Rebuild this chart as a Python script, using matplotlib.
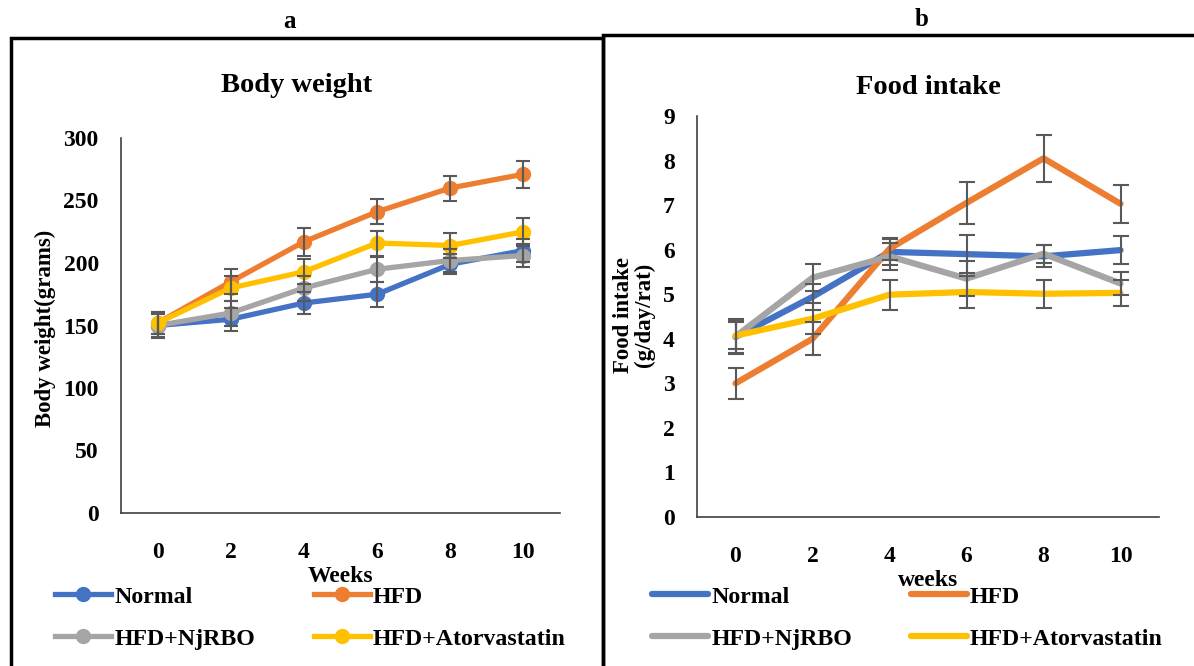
import matplotlib.pyplot as plt
from matplotlib.lines import Line2D
from matplotlib.patches import Rectangle

plt.rcParams['font.family'] = ['Liberation Serif', 'DejaVu Serif']
plt.rcParams['font.weight'] = 'bold'

weeks = ['0', '2', '4', '6', '8', '10']
groups = ['Normal', 'HFD', 'HFD+NjRBO', 'HFD+Atorvastatin']
colors = ['#4472C4', '#ED7D31', '#A5A5A5', '#FFC000']

# body weight (grams)
bw_normal = [150, 155, 168, 175, 199, 210]
bw_hfd = [152, 185, 217, 241, 260, 271]
bw_njrbo = [150, 160, 180, 195, 202, 206]
bw_ator = [152, 180, 193, 216, 214, 225]
bw_normal_err = [10, 9, 9, 10, 8, 9]
bw_hfd_err = [9, 10, 11, 10, 10, 11]
bw_njrbo_err = [9, 10, 10, 10, 9, 9]
bw_ator_err = [9, 10, 10, 10, 10, 11]

# food intake (g/day/rat)
fi_normal = [4.04, 4.94, 5.95, 5.90, 5.85, 5.99]
fi_hfd = [3.0, 4.0, 6.02, 7.05, 8.05, 7.03]
fi_njrbo = [4.05, 5.37, 5.85, 5.35, 5.91, 5.24]
fi_ator = [4.07, 4.45, 4.99, 5.05, 5.01, 5.03]
fi_normal_err = [0.35, 0.3, 0.3, 0.42, 0.25, 0.32]
fi_hfd_err = [0.35, 0.37, 0.25, 0.47, 0.53, 0.43]
fi_njrbo_err = [0.4, 0.3, 0.3, 0.4, 0.2, 0.25]
fi_ator_err = [0.3, 0.35, 0.34, 0.35, 0.32, 0.3]

W, H = 1194, 666
fig = plt.figure(figsize=(W / 100, H / 100), dpi=100)


def fx(px):
    return px / W


def fy(py):
    return 1 - py / H


def style_axes(ax, ymax, ystep):
    ax.set_xlim(-0.5, len(weeks) - 0.5)
    ax.set_ylim(0, ymax)
    ax.set_xticks(range(len(weeks)))
    ax.set_xticklabels(weeks)
    ax.set_yticks(range(0, ymax + 1, ystep))
    for s in ['top', 'right']:
        ax.spines[s].set_visible(False)
    for s in ['left', 'bottom']:
        ax.spines[s].set_color('#404040')
        ax.spines[s].set_linewidth(1.2)
    ax.tick_params(length=0, labelsize=17)
    ax.tick_params(axis='x', pad=21)
    ax.tick_params(axis='y', pad=16)


x = list(range(len(weeks)))

# panel a
ax1 = fig.add_axes([fx(121), fy(513), fx(560 - 121), (513 - 138) / H])
bw_vals = [bw_normal, bw_hfd, bw_njrbo, bw_ator]
bw_errs = [bw_normal_err, bw_hfd_err, bw_njrbo_err, bw_ator_err]
for vals, err, c, name in zip(bw_vals, bw_errs, colors, groups):
    ax1.plot(x, vals, color=c, lw=3.8, marker='o', ms=10, label=name, zorder=3)
    ax1.errorbar(x, vals, yerr=err, fmt='none', ecolor='#595959', elinewidth=1.5,
                 capsize=5, capthick=1.5, zorder=4)
style_axes(ax1, 300, 50)

# panel b
ax2 = fig.add_axes([fx(697), fy(517), fx(1159 - 697), (517 - 116) / H])
fi_vals = [fi_normal, fi_hfd, fi_njrbo, fi_ator]
fi_errs = [fi_normal_err, fi_hfd_err, fi_njrbo_err, fi_ator_err]
for vals, err, c, name in zip(fi_vals, fi_errs, colors, groups):
    ax2.plot(x, vals, color=c, lw=4.5, label=name, zorder=3, solid_capstyle='round')
    ax2.errorbar(x, vals, yerr=err, fmt='none', ecolor='#595959', elinewidth=1.5,
                 capsize=6, capthick=1.5, zorder=4)
style_axes(ax2, 9, 1)

# frames
fig.add_artist(Rectangle((fx(11), fy(668)), fx(603 - 11), (668 - 38) / H,
                         fill=False, lw=2.5, ec='black', transform=fig.transFigure))
fig.add_artist(Rectangle((fx(603), fy(668)), fx(1196 - 603), (668 - 35) / H,
                         fill=False, lw=2.5, ec='black', transform=fig.transFigure))

# texts
fig.text(fx(290), fy(21), 'a', ha='center', va='center', fontsize=18)
fig.text(fx(922), fy(19), 'b', ha='center', va='center', fontsize=18)
fig.text(fx(297), fy(86), 'Body weight', ha='center', va='center', fontsize=20.5)
fig.text(fx(928), fy(88), 'Food intake', ha='center', va='center', fontsize=20.5)
fig.text(fx(45), fy(328), 'Body weight(grams)', rotation=90, ha='center', va='center',
         fontsize=16.5)
fig.text(fx(634), fy(315), 'Food intake\n(g/day/rat)', rotation=90, ha='center', va='center',
         fontsize=16.5, linespacing=1.0)

# legends
h1 = [Line2D([], [], color=c, lw=3.8, marker='o', ms=10) for c in colors]
h2 = [Line2D([], [], color=c, lw=4.5, solid_capstyle='round') for c in colors]
order = [0, 2, 1, 3]
leg_kw = dict(ncol=2, loc='upper left', frameon=False, fontsize=17.2, handlelength=2.35,
              handletextpad=0.13, columnspacing=2.45, labelspacing=0.84,
              borderpad=0, borderaxespad=0)
fig.legend([h1[i] for i in order], [groups[i] for i in order],
           bbox_to_anchor=(fx(55), fy(586)), **leg_kw)
fig.legend([h2[i] for i in order], [groups[i] for i in order],
           bbox_to_anchor=(fx(652), fy(586)), **leg_kw)

fig.text(fx(340), fy(577), 'Weeks', ha='center', va='center', fontsize=17, zorder=5)
fig.text(fx(928), fy(581), 'weeks', ha='center', va='center', fontsize=17, zorder=5)

fig.savefig('out.png', dpi=100)
